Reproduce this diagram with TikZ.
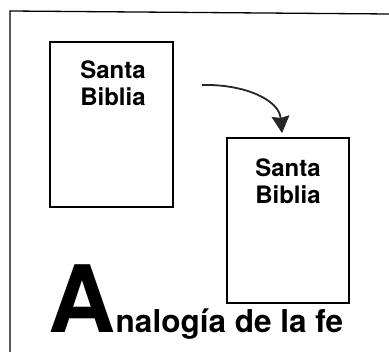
\documentclass[tikz,border=0pt]{standalone}
\usepackage{fontspec}
\setmainfont{TeX Gyre Heros}
\usetikzlibrary{arrows.meta}
\begin{document}
\begin{tikzpicture}[x=1pt,y=-1pt,
  bookbox/.style={draw=black,line width=1.2pt,rectangle,inner sep=0pt},
  booktitle/.style={font=\fontsize{24}{27}\selectfont\bfseries,align=center,inner sep=0pt},
  frame/.style={draw=black,line width=1.3pt},
  curvearrow/.style={draw=black!85,line width=1.8pt,-{Stealth[length=17pt,width=18pt,inset=2pt,line width=0.5pt,fill=black!85]}}
]
\useasboundingbox (0,0) rectangle (389,355);
% outer frame
\coordinate (fbl) at (10,352);
\coordinate (ftl) at (10,11);
\coordinate (ftr) at (389,14);
\draw[frame] (fbl) -- (ftl) -- (ftr);
% first book
\node[bookbox,minimum width=123pt,minimum height=165pt] (b1) at (111.5,124.5) {};
\node[booktitle] (t1) at (113,83) {Santa\\Biblia};
% second book
\node[bookbox,minimum width=122pt,minimum height=165pt] (b2) at (288,220.5) {};
\node[booktitle] (t2) at (288,181) {Santa\\Biblia};
% arrow
\coordinate (as) at (202,85);
\coordinate (ae) at (282,133);
\draw[curvearrow] (as) .. controls (245,84) and (279,100) .. (ae);
% title
\node[anchor=base west,inner sep=0pt,font=\fontsize{93}{93}\selectfont\bfseries] (bigA) at (48,333) {A};
\node[anchor=base west,inner sep=0pt,font=\fontsize{31.5}{31.5}\selectfont\bfseries] (rest) at (bigA.base east) {nalogía de la fe};
\end{tikzpicture}
\end{document}
